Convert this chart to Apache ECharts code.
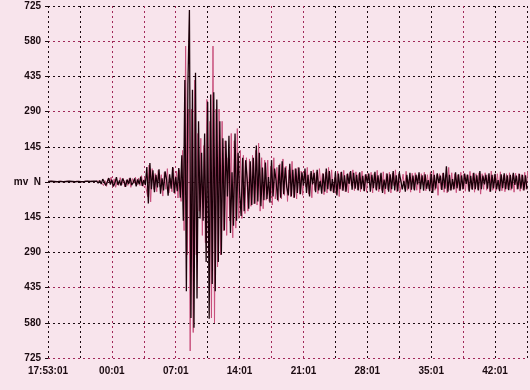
<!DOCTYPE html>
<html>
<head>
<meta charset="utf-8">
<script src="https://cdn.jsdelivr.net/npm/echarts@6/dist/echarts.min.js"></script>
<style>
html,body{margin:0;padding:0;background:#f8e4ec;}
#chart{width:530px;height:390px;}
</style>
</head>
<body>
<div id="chart"></div>
<script>
// time axis (seconds from 17:53:01)
const sampleSec = 10;
const blackStart = 0;
const pinkStart = 5;
const xTickLabels = ['17:53:01','00:01','07:01','14:01','21:01','28:01','35:01','42:01'];
const yTickLabels = ['725','580','435','290','145','mv  N','145','290','435','580','725'];

const blackTrace = [
2,-2,3,-1,2,-3,1,-2,3,-2,1,-3,2,-1,3,-2,2,-3,1,-2,3,-2,1,-3,2,-2,4,-3,2,-4,3,-2,4,-5,6,
-8,12,4,-14,-6,16,-10,9,-18,-4,20,-12,6,-15,14,3,-20,10,-8,17,-13,-2,15,-18,11,-9,22,-16,8,-12,
62,-88,78,-30,48,-42,
30,-22,52,-48,15,-35,44,10,-56,32,-28,62,-45,20,-38,58,
-65,110,-160,420,-450,400,708,-560,380,-600,450,-480,250,-150,120,-160,200,-330,330,-563,360,-420,370,-450,340,-330,250,-300,180,
-200,170,-60,190,-210,40,-180,200,-160,120,-40,-140,100,-120,90,10,-110,85,-95,100,-90,150,-80,120,-100,60,-75,
80,-70,20,-85,90,-60,55,5,-75,70,-65,85,-50,60,-20,-55,75,-60,50,-65,55,-45,60,
-50,40,-15,55,-45,30,-60,45,-10,38,-42,50,-35,5,-48,35,-40,55,-30,45,-38,12,-45,40,-55,35,-30,42,-36,28,-40,35,-8,45,-32,38,-28,30,-35,40,-30,25,-38,32,-5,35,-40,30,-25,42,-35,28,-30,38,-45,10,-28,35,-40,32,-30,45,-35,28,-38,40,
35,-30,5,-40,30,-28,38,-32,26,-35,30,-10,40,-30,28,-36,32,-28,8,-38,34,-45,30,-27,36,-5,26,-33,38,-28,65,-40,30,-35,12,-30,40,-26,32,-36,27,-30,35,-8,30,-40,25,-32,38,-30,28,-35,45,-30,26,-10,30,-28,36,-40,30,-26,34,-30,8,-38,32,-25,36,-30,28,-34,30,-28,38,-12,26,-30,34,-28,30,-35,28,-30
];

const pinkTrace = [
2,-1,3,-2,1,-3,2,-1,3,-2,1,-2,3,-1,2,-3,1,-2,3,-1,2,-3,1,-2,3,-1,2,-4,3,-2,1,-3,4,-2,3,
10,-15,6,-18,14,-4,20,-16,13,-22,5,-14,18,-12,15,-20,8,-14,16,-22,14,-6,20,-12,16,-15,26,-18,15,-25,
-60,70,-82,55,-30,35,
-40,48,-20,30,-58,40,-30,55,-45,15,-40,58,-50,45,-66,50,
-80,130,-200,560,-300,300,-696,300,-620,420,-300,200,-120,180,-220,150,-250,340,-300,250,-560,560,-580,300,-350,300,-300,250,-200,
170,-220,100,-160,200,-230,170,-190,220,-150,130,-150,110,-130,100,-120,95,-100,110,-90,130,-95,160,-120,100,-110,90,
-75,90,-80,65,-95,100,-70,60,-80,75,-70,95,-55,65,-80,50,-60,85,-65,55,-70,60,-50,
45,-55,38,-20,60,-50,35,-65,50,-35,42,-48,55,-20,35,-52,40,-45,60,-35,50,-42,18,-50,45,-60,40,-35,48,-40,32,-45,40,-15,50,-36,42,-32,35,-40,45,-35,30,-42,36,-12,40,-45,35,-30,48,-40,32,-35,42,-50,35,-32,40,-45,36,-15,50,-40,32,-42,
-38,32,-28,44,-34,10,-42,36,-30,38,-34,28,-45,34,-10,40,-36,30,-28,42,-38,48,-34,30,-55,34,-30,36,-42,30,-45,60,-34,38,-30,34,-44,30,-36,40,-30,34,-38,30,-34,44,-28,36,-42,34,-30,38,-50,34,-30,38,-34,30,-40,45,-34,30,-38,34,-30,42,-36,28,-40,34,-30,38,-34,30,-42,36,-30,34,-38,30,-34,40,-30,45
];

const blackData = blackTrace.map((v, i) => [blackStart + i * sampleSec, v]);
const pinkData = pinkTrace.map((v, i) => [pinkStart + i * sampleSec, v]);

const hColors = ['#a02858','#1a0a10','#a02858','#1a0a10','#1a0a10','#1a0a10','#1a0a10','#a02858','#1a0a10','#a02858','#1a0a10'];
const vColors = ['#1a0a10','#1a0a10','#a02858','#a02858','#a02858','#1a0a10','#1a0a10','#a02858','#a02858','#1a0a10','#1a0a10','#1a0a10','#1a0a10','#a02858','#1a0a10','#1a0a10'];

const chart = echarts.init(document.getElementById('chart'), null, {renderer: 'canvas'});
chart.setOption({
  backgroundColor: '#f8e4ec',
  animation: false,
  grid: {left: 48, right: 3, top: 6, bottom: 32, containLabel: false},
  xAxis: {
    type: 'value', min: 0, max: 3150, interval: 210,
    axisLine: {show: false}, axisTick: {show: false},
    axisLabel: {
      margin: 8, color: '#1a0a10', fontSize: 10, fontWeight: 'bold', fontFamily: 'Liberation Sans',
      formatter: function (v) { const k = Math.round(v / 210); return k % 2 === 0 ? (xTickLabels[k / 2] || '') : ''; }
    },
    splitLine: {show: true, lineStyle: {color: vColors, type: [2, 3], width: 1}}
  },
  yAxis: {
    type: 'value', min: -725, max: 725, interval: 145,
    axisLine: {show: false},
    axisTick: {show: true, length: 3, lineStyle: {color: '#1a0a10'}},
    axisLabel: {
      margin: 7, color: '#1a0a10', fontSize: 10, fontWeight: 'bold', fontFamily: 'Liberation Sans',
      formatter: function (v) { return yTickLabels[Math.round((725 - v) / 145)]; }
    },
    splitLine: {show: true, lineStyle: {color: hColors, type: [2, 3], width: 1}}
  },
  series: [
    {type: 'line', data: pinkData, showSymbol: false, sampling: null, lineStyle: {color: '#c8507c', width: 1}, z: 2},
    {type: 'line', data: blackData, showSymbol: false, sampling: null, lineStyle: {color: '#1a0008', width: 1.3}, z: 3}
  ]
});
</script>
</body>
</html>
